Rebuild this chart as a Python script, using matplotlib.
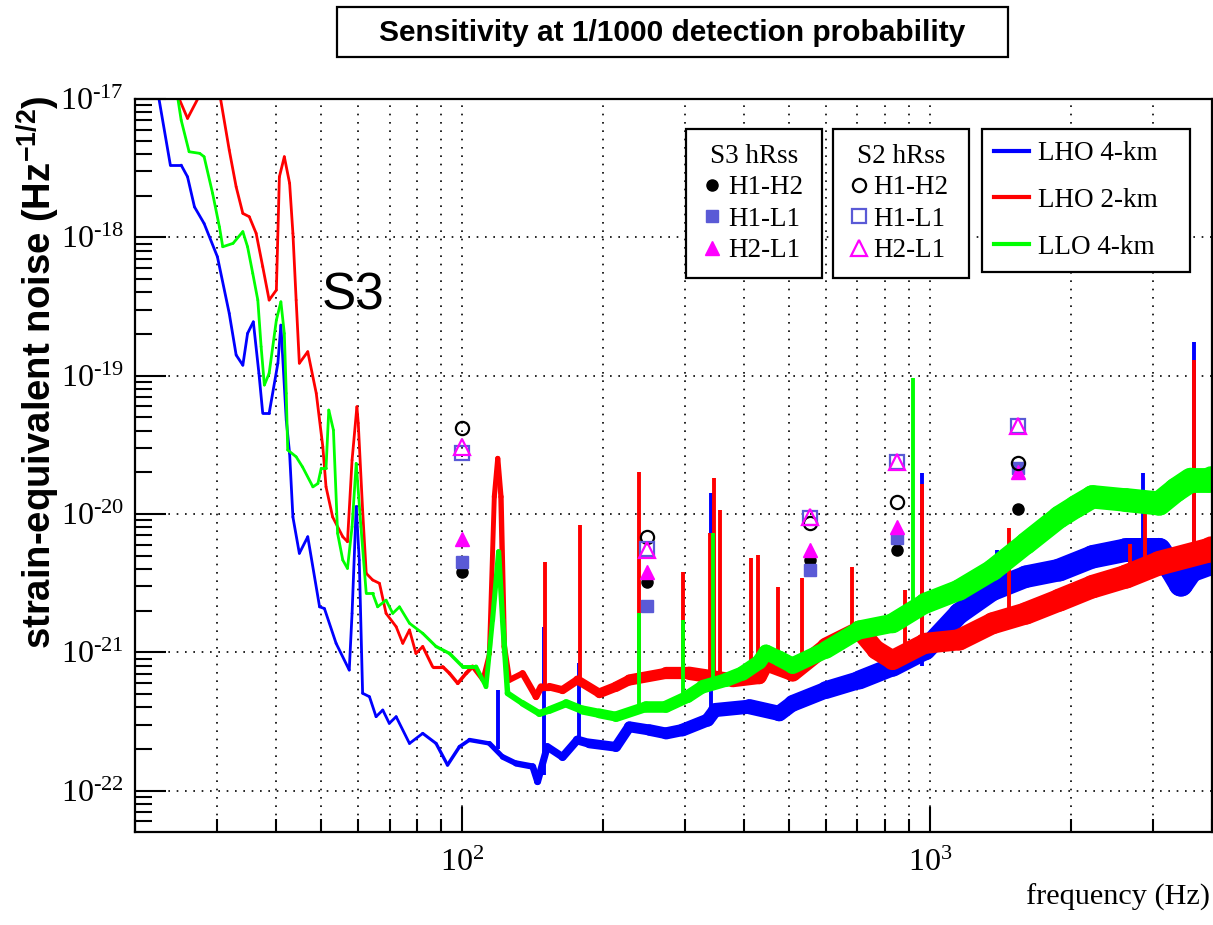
import numpy as np
import matplotlib
matplotlib.use('Agg')
import matplotlib.pyplot as plt
from matplotlib.collections import LineCollection
from matplotlib.lines import Line2D
from matplotlib.patches import Rectangle
from matplotlib.ticker import LogLocator, FixedLocator, FuncFormatter, NullFormatter

# ---- S3 strain-equivalent noise curves (Hz, 1/sqrt(Hz)) ----
lho4_f = [22.3, 23.8, 25.1, 25.9, 26.8, 28.1, 30.0, 31.8, 32.9, 34.0, 34.8, 35.8, 36.8, 37.5,
          38.7, 40.4, 41.0, 42.1, 42.8, 43.5, 44.9, 46.8, 49.6, 50.8, 53.8, 57.4, 58.2, 59.4,
          60.3, 61.3, 63.4, 65.5, 67.7, 69.9, 72.3, 77.2, 82.4, 88.0, 93.1, 98.7, 103.7, 114.4,
          122.1, 130.4, 141.6, 145.0, 152.1, 164.0, 176.3, 187.1, 213.3, 227.8, 251.3, 272.9,
          296.1, 335.2, 347.6, 411.2, 476.4, 508.7, 599.6, 706.3, 832.1, 977, 1155, 1361, 1604,
          1890, 2226, 2623, 3090, 3299, 3439, 3611, 3955, 4000]
lho4_asd = [1.2e-17, 3.33e-18, 3.33e-18, 2.74e-18, 1.66e-18, 1.26e-18, 7.24e-19, 2.82e-19,
            1.41e-19, 1.19e-19, 2.02e-19, 2.45e-19, 1.04e-19, 5.34e-20, 5.34e-20, 1.23e-19,
            2.32e-19, 4.78e-20, 2.74e-20, 9.5e-21, 5.19e-21, 6.84e-21, 2.13e-21, 2.07e-21,
            1.16e-21, 7.43e-22, 1.91e-21, 1.13e-20, 4.64e-21, 5.05e-22, 4.77e-22, 3.42e-22,
            3.82e-22, 3.06e-22, 3.42e-22, 2.19e-22, 2.59e-22, 2.19e-22, 1.53e-22, 2.07e-22,
            2.32e-22, 2.19e-22, 1.75e-22, 1.57e-22, 1.49e-22, 1.16e-22, 2.07e-22, 1.75e-22,
            2.32e-22, 2.19e-22, 2.07e-22, 2.89e-22, 2.74e-22, 2.59e-22, 2.74e-22, 3.24e-22,
            3.82e-22, 4.04e-22, 3.61e-22, 4.27e-22, 5.33e-22, 6.3e-22, 7.86e-22, 1.04e-21,
            1.91e-21, 2.82e-21, 3.52e-21, 3.93e-21, 4.9e-21, 5.48e-21, 5.48e-21, 3.93e-21,
            3.1e-21, 3.93e-21, 4.4e-21, 4.6e-21]
lho4_line_f = [119.5, 150, 178, 341, 960, 1393, 2850, 3660]
lho4_line_lo = [2.0e-22, 1.3e-22, 2.2e-22, 3.5e-22, 8.0e-22, 2.8e-21, 5.1e-21, 4.0e-21]
lho4_line_hi = [5.3e-22, 1.53e-21, 8.3e-22, 1.41e-20, 1.97e-20, 5.5e-21, 1.97e-20, 1.76e-19]

lho2_f = [24.3, 25.9, 28.0, 29.5, 30.4, 31.8, 32.9, 34.0, 35.1, 36.3, 37.5, 38.7, 40.1, 40.7,
          41.7, 42.8, 43.5, 44.2, 44.9, 46.8, 48.8, 50.4, 51.2, 52.9, 55.6, 56.9, 58.2, 59.6,
          60.0, 61.3, 62.4, 64.4, 66.6, 68.8, 72.3, 74.7, 77.2, 79.7, 82.4, 86.5, 90.9, 94.0,
          97.9, 102.0, 105.3, 110.7, 114.4, 117.2, 119.2, 121.1, 123.1, 126.2, 134.7, 143.9,
          147.5, 153.7, 164.0, 176.6, 196.6, 213.3, 227.8, 272.9, 306.0, 378.6, 431.8, 446.3,
          508.7, 599.6, 706.3, 767, 832.1, 977, 1155, 1361, 1604, 1890, 2226, 2623, 3090,
          3955, 4000]
lho2_asd = [1.2e-17, 7.25e-18, 1.2e-17, 3e-17, 1.05e-17, 4.28e-18, 2.32e-18, 1.49e-18, 1.41e-18,
            1.07e-18, 6.13e-19, 3.52e-19, 4.16e-19, 2.74e-18, 3.83e-18, 2.46e-18, 1.07e-18,
            3.52e-19, 1.23e-19, 1.49e-19, 7.45e-20, 3.06e-20, 1.57e-20, 9.5e-21, 6.84e-21,
            6.3e-21, 2.45e-20, 5.96e-20, 4.54e-20, 1.07e-20, 3.72e-21, 3.33e-21, 3.15e-21,
            1.91e-21, 1.53e-21, 1.16e-21, 1.45e-21, 9.8e-22, 1.10e-21, 7.86e-22, 7.86e-22,
            7.04e-22, 5.96e-22, 7.04e-22, 7.86e-22, 6.3e-22, 9.8e-22, 1.33e-20, 2.52e-20,
            1.33e-20, 1.10e-21, 6.3e-22, 7.04e-22, 4.77e-22, 5.63e-22, 5.63e-22, 5.33e-22,
            6.3e-22, 5.05e-22, 5.63e-22, 6.3e-22, 7.04e-22, 7.04e-22, 6.3e-22, 6.65e-22,
            8.3e-22, 7.04e-22, 1.10e-21, 1.45e-21, 1.04e-21, 8.78e-22, 1.16e-21, 1.23e-21,
            1.62e-21, 1.91e-21, 2.38e-21, 2.98e-21, 3.52e-21, 4.4e-21, 5.48e-21, 5.6e-21]
lho2_line_f = [150.7, 178.7, 238.5, 296, 338, 345, 355, 415, 428, 473, 534, 683, 886, 961,
               1472, 2680, 2880, 3670]
lho2_line_lo = [5.6e-22, 6.3e-22, 6.3e-22, 7.0e-22, 7.0e-22, 7.0e-22, 7.0e-22, 8.0e-22,
                8.0e-22, 8.0e-22, 8.0e-22, 1.2e-21, 9.0e-22, 1.0e-21, 1.7e-21, 3.5e-21,
                4.0e-21, 4.5e-21]
lho2_line_hi = [4.51e-21, 8.3e-21, 2.02e-20, 3.82e-21, 7.24e-21, 1.81e-20, 1.07e-20, 4.78e-21,
                5.05e-21, 2.98e-21, 3.42e-21, 4.15e-21, 2.82e-21, 1.66e-20, 7.87e-21, 6.1e-21,
                1.4e-20, 1.30e-19]

llo4_f = [24.5, 25.1, 26.1, 27.5, 28.1, 29.3, 30.3, 30.8, 32.4, 34.0, 34.8, 35.7, 36.6, 37.2,
          37.8, 38.7, 40.1, 41.0, 41.7, 42.1, 42.4, 44.2, 45.6, 48.0, 49.2, 50.0, 51.2, 51.9,
          53.1, 54.2, 55.6, 56.9, 58.2, 59.4, 60.8, 62.4, 64.4, 66.0, 68.8, 71.1, 73.5, 77.2,
          82.4, 88.0, 94.0, 100.3, 107.1, 112.5, 116.2, 119.7, 122.1, 125.1, 134.7, 146.3,
          153.7, 166.9, 181.0, 196.6, 213.3, 247.3, 272.9, 303.4, 326.8, 366.5, 397.9, 431.8,
          446.3, 476.4, 508.7, 599.6, 706.3, 832.1, 977, 1155, 1361, 1604, 1890, 2051, 2226,
          2623, 3090, 3355, 3611, 3955, 4000]
llo4_asd = [1.2e-17, 7.05e-18, 4.16e-18, 4.05e-18, 3.83e-18, 2.08e-18, 1.19e-18, 8.55e-19,
            9.05e-19, 1.10e-18, 8.55e-19, 5.49e-19, 3.52e-19, 1.62e-19, 8.55e-20, 1.04e-19,
            2.52e-19, 3.42e-19, 2.02e-19, 7.45e-20, 2.9e-20, 2.59e-20, 2.19e-20, 1.57e-20,
            1.66e-20, 2.14e-20, 2.14e-20, 5.64e-20, 4.04e-20, 7.24e-21, 4.64e-21, 4.04e-21,
            8.07e-21, 2.32e-20, 8.07e-21, 2.67e-21, 2.67e-21, 2.13e-21, 2.38e-21, 1.91e-21,
            2.13e-21, 1.62e-21, 1.37e-21, 1.10e-21, 9.8e-22, 7.86e-22, 7.86e-22, 5.63e-22,
            1.71e-21, 5.33e-21, 1.71e-21, 5.05e-22, 4.27e-22, 3.61e-22, 3.82e-22, 4.27e-22,
            3.82e-22, 3.61e-22, 3.42e-22, 4.04e-22, 4.04e-22, 4.77e-22, 5.63e-22, 6.3e-22,
            7.04e-22, 8.5e-22, 1.0e-21, 9.0e-22, 8.0e-22, 1.04e-21, 1.45e-21, 1.62e-21,
            2.26e-21, 2.82e-21, 3.93e-21, 6.12e-21, 9.5e-21, 1.13e-20, 1.33e-20, 1.26e-20,
            1.19e-20, 1.49e-20, 1.76e-20, 1.76e-20, 1.8e-20]
llo4_line_f = [239, 296, 343, 918]
llo4_line_lo = [3.6e-22, 4.5e-22, 5.5e-22, 1.8e-21]
llo4_line_hi = [1.91e-21, 1.71e-21, 7.24e-21, 9.55e-20]

# ---- hRss at 1/1000 detection probability (sine-Gaussians) ----
sg_freq = [100, 249, 554, 849, 1540]
s3_h1h2 = [3.82e-21, 3.24e-21, 4.64e-21, 5.48e-21, 1.08e-20]
s3_h1l1 = [4.51e-21, 2.16e-21, 3.93e-21, 6.67e-21, 2.15e-20]
s3_h2l1 = [6.55e-21, 3.82e-21, 5.48e-21, 8.07e-21, 2.02e-20]
s2_h1h2 = [4.16e-20, 6.84e-21, 8.6e-21, 1.22e-20, 2.32e-20]
s2_h1l1 = [2.75e-20, 5.6e-21, 9.3e-21, 2.38e-20, 4.32e-20]
s2_h2l1 = [3.06e-20, 5.48e-21, 9.5e-21, 2.38e-20, 4.3e-20]

SQ_BLUE = '#5a5ad6'
MAGENTA = '#ff00ff'

plt.rcParams['font.family'] = ['Liberation Serif', 'DejaVu Serif']
plt.rcParams['mathtext.fontset'] = 'custom'
plt.rcParams['mathtext.rm'] = 'Liberation Serif'
plt.rcParams['mathtext.it'] = 'Liberation Serif:italic'
plt.rcParams['mathtext.bf'] = 'Liberation Serif:bold'

fig = plt.figure(figsize=(12.13, 9.25), dpi=100)
ax = fig.add_axes([0.1113, 0.1005, 0.8876, 0.7924])
ax.set_xscale('log')
ax.set_yscale('log')
ax.set_xlim(20, 4000)
ax.set_ylim(5.01e-23, 1e-17)


def draw_asd(f, asd, lf, llo, lhi, color):
    f = np.asarray(f, dtype=float)
    asd = np.asarray(asd, dtype=float)
    pts = np.column_stack([f, asd])
    segs = np.stack([pts[:-1], pts[1:]], axis=1)
    # noise gets fuzzier at high frequency -> wider trace
    fmid = np.sqrt(f[:-1] * f[1:])
    widths = np.interp(np.log10(fmid), [1.9, 2.0, 2.3, 3.0, 3.6], [2.0, 2.6, 7.0, 15.0, 18.0])
    lc = LineCollection(segs, colors=color, linewidths=widths,
                        capstyle='round', joinstyle='round', zorder=2)
    ax.add_collection(lc)
    ax.vlines(lf, llo, lhi, colors=color, lw=2.8, zorder=2)


draw_asd(lho4_f, lho4_asd, lho4_line_f, lho4_line_lo, lho4_line_hi, '#0000ff')
draw_asd(lho2_f, lho2_asd, lho2_line_f, lho2_line_lo, lho2_line_hi, '#ff0000')
draw_asd(llo4_f, llo4_asd, llo4_line_f, llo4_line_lo, llo4_line_hi, '#00ff00')

# S3 filled, S2 open markers
ax.plot(sg_freq, s3_h1h2, ls='none', marker='o', ms=8, color='k', zorder=5)
ax.plot(sg_freq, s3_h1l1, ls='none', marker='s', ms=8.5, color=SQ_BLUE, zorder=5)
ax.plot(sg_freq, s3_h2l1, ls='none', marker='^', ms=10, color=MAGENTA, zorder=5)
ax.plot(sg_freq, s2_h1h2, ls='none', marker='o', ms=9.5, mfc='none', mec='k', mew=1.6, zorder=5)
ax.plot(sg_freq, s2_h1l1, ls='none', marker='s', ms=10, mfc='none', mec=SQ_BLUE, mew=1.6, zorder=5)
ax.plot(sg_freq, s2_h2l1, ls='none', marker='^', ms=11, mfc='none', mec=MAGENTA, mew=1.6, zorder=5)

# axes / ticks, ROOT style
for s in ax.spines.values():
    s.set_linewidth(1.6)
ax.xaxis.set_major_locator(FixedLocator([1e2, 1e3]))
ax.xaxis.set_minor_locator(LogLocator(base=10, subs=np.arange(2, 10)))
ax.yaxis.set_major_locator(FixedLocator([1e-22, 1e-21, 1e-20, 1e-19, 1e-18, 1e-17]))
ax.yaxis.set_minor_locator(LogLocator(base=10, subs=np.arange(2, 10), numticks=20))


def exp_label(v, pos):
    e = int(round(np.log10(v)))
    if e < 0:
        return r'$\mathregular{10^{\text{-}%d}}$' % (-e)
    return r'$\mathregular{10^{%d}}$' % e


ax.xaxis.set_major_formatter(FuncFormatter(exp_label))
ax.yaxis.set_major_formatter(FuncFormatter(exp_label))
ax.xaxis.set_minor_formatter(NullFormatter())
ax.yaxis.set_minor_formatter(NullFormatter())
ax.tick_params(axis='both', which='both', direction='in', top=False, right=False,
               width=1.5, labelsize=23)
ax.tick_params(axis='y', which='major', length=22, pad=8)
ax.tick_params(axis='y', which='minor', length=12)
ax.tick_params(axis='x', which='major', length=18, pad=12)
ax.tick_params(axis='x', which='minor', length=9.5)
ax.grid(which='major', axis='both', color='k', ls=(0, (1, 4)), lw=1.2)
ax.grid(which='minor', axis='x', color='k', ls=(0, (1, 4)), lw=1.2)
ax.set_axisbelow(True)

# legends
s3_handles = [Line2D([], [], ls='none', marker='o', ms=8, color='k'),
              Line2D([], [], ls='none', marker='s', ms=8.5, color=SQ_BLUE),
              Line2D([], [], ls='none', marker='^', ms=10, color=MAGENTA)]
s2_handles = [Line2D([], [], ls='none', marker='o', ms=9.5, mfc='none', mec='k', mew=1.6),
              Line2D([], [], ls='none', marker='s', ms=10, mfc='none', mec=SQ_BLUE, mew=1.6),
              Line2D([], [], ls='none', marker='^', ms=11, mfc='none', mec=MAGENTA, mew=1.6)]
ifo_handles = [Line2D([], [], color='#0000ff', lw=3),
               Line2D([], [], color='#ff0000', lw=3),
               Line2D([], [], color='#00ff00', lw=3)]
pair_labels = ['H1-H2', 'H1-L1', 'H2-L1']

leg_kw = dict(loc='upper left', mode='expand', borderaxespad=0, fancybox=False,
              framealpha=1, edgecolor='k', fontsize=19.5, title_fontsize=19.5,
              bbox_transform=fig.transFigure)
leg1 = ax.legend(s3_handles, pair_labels, title='S3 hRss',
                 bbox_to_anchor=(0.5655, 0.7605, 0.1121, 0.1), handlelength=0.8,
                 handletextpad=0.2, labelspacing=0.24, borderpad=0.55, **leg_kw)
leg2 = ax.legend(s2_handles, pair_labels, title='S2 hRss',
                 bbox_to_anchor=(0.6867, 0.7605, 0.1121, 0.1), handlelength=0.8,
                 handletextpad=0.15, labelspacing=0.24, borderpad=0.55, **leg_kw)
leg3 = ax.legend(ifo_handles, ['LHO 4-km', 'LHO 2-km', 'LLO 4-km'],
                 bbox_to_anchor=(0.8096, 0.7605, 0.1715, 0.1), handlelength=1.3,
                 handletextpad=0.3, labelspacing=0.8, borderpad=0.45, **leg_kw)
for lg in (leg1, leg2, leg3):
    lg.get_frame().set_linewidth(1.6)
    lg.set_zorder(6)
ax.add_artist(leg1)
ax.add_artist(leg2)

# title box
fig.add_artist(Rectangle((0.2778, 0.9384), 0.5532, 0.0541, transform=fig.transFigure,
                         fc='white', ec='black', lw=1.6))
fig.text(0.5540, 0.9643, 'Sensitivity at 1/1000 detection probability',
         ha='center', va='center', fontsize=21.5, fontweight='bold',
         family=['Liberation Sans', 'DejaVu Sans'])

fig.text(0.2655, 0.6649, 'S3', ha='left', va='baseline', fontsize=37,
         family=['Liberation Sans', 'DejaVu Sans'])

fig.text(0.032, 0.897, r'strain-equivalent noise (Hz$\mathregular{^{-1/2}}$)',
         rotation=90, ha='center', va='top', fontsize=27.5, fontweight='bold',
         family=['Liberation Sans', 'DejaVu Sans'])
fig.text(0.9975, 0.0216, 'frequency (Hz)', ha='right', va='baseline', fontsize=21.8)

fig.savefig('out.png', dpi=100)
